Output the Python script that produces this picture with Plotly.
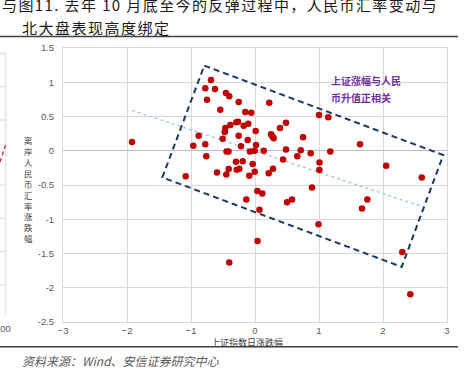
import numpy as np
import plotly.graph_objects as go

# ---- data ----
sh_change = [
    -0.688, -0.777, -0.625, -0.453, -0.402, -0.750, -0.255, 0.223, -0.542, -0.152,
    -0.058, 1.000, 1.145, -0.292, -0.266, -0.386, -0.177, -0.105, 0.484, -0.464,
    0.391, 0.011, -0.473, -0.880, -0.255, 0.250, 0.270, 0.292, -0.505, 0.750,
    -0.114, -0.777, -0.964, 0.016, -0.219, 0.484, 0.714, -0.445, -0.414, -0.078,
    -0.005, 0.136, 0.870, 1.177, -0.761, 0.661, 0.438, 1.008, -0.297, -0.192,
    -0.036, -0.411, -0.286, -0.245, 0.281, 1.005, -0.594, -0.448, -0.005, 0.214,
    -0.089, -1.083, 0.891, 0.036, 0.114, -0.136, 0.500, 0.578, 0.070, -1.922,
    1.641, 2.050, 2.606, 1.755, 1.672, 0.992, 2.302, 2.427, 0.039, -0.402,
]
cnh_change = [
    1.034, 0.912, 0.902, 0.844, 0.795, 0.746, 0.712, 0.702, 0.599, 0.566,
    0.556, 0.522, 0.488, 0.415, 0.424, 0.376, 0.365, 0.395, 0.409, 0.332,
    0.332, 0.288, 0.273, 0.219, 0.219, 0.240, 0.211, 0.181, 0.175, 0.196,
    0.156, 0.094, 0.073, 0.083, 0.064, 0.020, 0.006, -0.012, -0.012, -0.012,
    0.000, 0.000, -0.038, -0.012, -0.082, -0.082, -0.126, -0.170, -0.161, -0.155,
    -0.194, -0.268, -0.278, -0.263, -0.263, -0.282, -0.316, -0.345, -0.307, -0.330,
    -0.365, -0.374, -0.535, -0.589, -0.623, -0.711, -0.750, -0.713, -0.860, 0.127,
    0.094, -0.219, -0.389, -0.711, -0.842, -1.072, -1.477, -2.095, -1.316, -1.632,
]
# highlighted region (rotated box corners, data units)
box_x = [-0.792, 2.942, 2.292, -1.448, -0.792]
box_y = [1.243, -0.063, -1.696, -0.389, 1.243]

x_ticks = [-3, -2, -1, 0, 1, 2, 3]
y_ticks = [1.5, 1, 0.5, 0, -0.5, -1, -1.5, -2, -2.5]
y_tick_text = ["1.5", "1", "0.5", "0", "-0.5", "-1", "-1.5", "-2", "-2.5"]

title_1 = "与图11. 去年 10 月底至今的反弹过程中，人民币汇率变动与"
title_2 = "北大盘表现高度绑定"
x_title = "上证指数日涨跌幅"
y_title = "离岸人民币汇率涨跌幅"
note_1 = "上证涨幅与人民"
note_2 = "币升值正相关"
source = "资料来源：Wind、安信证券研究中心"

# ---- layout helpers (pixel -> paper) ----
W, H = 467, 375
L, R, T, B = 63, 447, 48, 322


def pxx(x):
    return (x - L) / (R - L)


def pxy(y):
    return (B - y) / (B - T)


CJK = "Noto Sans CJK SC"
GRID = "#D9D9D9"

fig = go.Figure()

# trend line (least squares)
k, b0 = np.polyfit(sh_change, cnh_change, 1)
tx = np.array([min(sh_change), max(sh_change)])
fig.add_trace(go.Scatter(
    x=tx, y=k * tx + b0, mode="lines",
    line=dict(color="#9DC3E6", width=1.3, dash="dot"),
    hoverinfo="skip", showlegend=False,
))

# points
fig.add_trace(go.Scatter(
    x=sh_change, y=cnh_change, mode="markers",
    marker=dict(color="#C00000", size=6.5, line=dict(width=0)),
    showlegend=False,
))

# dashed box
fig.add_trace(go.Scatter(
    x=box_x, y=box_y, mode="lines",
    line=dict(color="#1F3864", width=2, dash="6px,4px"),
    hoverinfo="skip", showlegend=False,
))

fig.update_layout(
    width=W, height=H,
    margin=dict(l=L, r=W - R, t=T, b=H - B),
    paper_bgcolor="white", plot_bgcolor="white",
    font=dict(family=CJK, color="#595959"),
    xaxis=dict(
        range=[-3, 3], tickvals=x_ticks, showgrid=True, gridcolor=GRID, gridwidth=1,
        zeroline=True, zerolinecolor=GRID, zerolinewidth=1,
        showline=True, linecolor=GRID, mirror=True,
        ticks="", tickfont=dict(family="Liberation Sans", size=9.5, color="#595959"),
    ),
    yaxis=dict(
        range=[-2.5, 1.5], tickvals=y_ticks, ticktext=y_tick_text,
        showgrid=True, gridcolor=GRID, gridwidth=1,
        zeroline=True, zerolinecolor="#BFBFBF", zerolinewidth=1,
        showline=True, linecolor=GRID, mirror=True,
        ticks="outside", ticklen=6, tickcolor="rgba(0,0,0,0)",
        tickfont=dict(family="Liberation Sans", size=9.5, color="#595959"),
    ),
)

ann = []
# titles
ann.append(dict(text=f'<span style="letter-spacing:1.4px">{title_1}</span>',
                x=pxx(0), y=pxy(5), xanchor="left", yanchor="middle",
                font=dict(family=CJK, size=15, color="#1a1a1a")))
ann.append(dict(text=f'<span style="letter-spacing:1.5px">{title_2}</span>',
                x=pxx(20), y=pxy(27.5), xanchor="left", yanchor="middle",
                font=dict(family=CJK, size=15, color="#1a1a1a")))
# axis titles
ann.append(dict(text=x_title, x=pxx(247), y=pxy(342.5), xanchor="center", yanchor="middle",
                font=dict(family=CJK, size=9, color="#404040")))
ann.append(dict(text="<br>".join(list(y_title)), x=pxx(28.5), y=pxy(189),
                xanchor="center", yanchor="middle",
                font=dict(family=CJK, size=8.4, color="#404040")))
# note
ann.append(dict(text=f"<b>{note_1}</b>", x=pxx(329), y=pxy(80.5), xanchor="left", yanchor="middle",
                font=dict(family=CJK, size=10, color="#7030A0")))
ann.append(dict(text=f"<b>{note_2}</b>", x=pxx(329), y=pxy(97.5), xanchor="left", yanchor="middle",
                font=dict(family=CJK, size=10, color="#7030A0")))
# source
ann.append(dict(text=f"<i>{source}</i>", x=pxx(20), y=pxy(360), xanchor="left", yanchor="middle",
                font=dict(family=CJK, size=12, color="#595959")))
# neighbouring chart remnant label
ann.append(dict(text="200", x=pxx(13), y=pxy(328), xanchor="right", yanchor="middle",
                font=dict(family="Liberation Sans", size=9.5, color="#595959")))
for a in ann:
    a.update(xref="paper", yref="paper", showarrow=False)
fig.update_layout(annotations=ann)

shapes = []
# rules
for yy in (36.5, 346.7):
    shapes.append(dict(type="line", x0=pxx(0), x1=pxx(458), y0=pxy(yy), y1=pxy(yy),
                       line=dict(color="#404040", width=1.5)))
# neighbouring chart remnant (right edge of previous panel)
shapes.append(dict(type="line", x0=pxx(5.7), x1=pxx(5.7), y0=pxy(53), y1=pxy(315),
                   line=dict(color=GRID, width=1)))
for yy in (53.3, 86.7, 120, 185, 218.3, 251.7, 285):
    shapes.append(dict(type="line", x0=pxx(0), x1=pxx(5.7), y0=pxy(yy), y1=pxy(yy),
                       line=dict(color=GRID, width=1)))
shapes.append(dict(type="line", x0=pxx(0), x1=pxx(5.5), y0=pxy(162), y1=pxy(145),
                   line=dict(color="#E02020", width=1.3, dash="4px,3px")))
for s in shapes:
    s.update(xref="paper", yref="paper", layer="below")
fig.update_layout(shapes=shapes)

fig.write_html(
    "out.html",
    config={"displayModeBar": False},
    post_script="document.body.style.margin='0';document.body.style.overflow='hidden';",
)
